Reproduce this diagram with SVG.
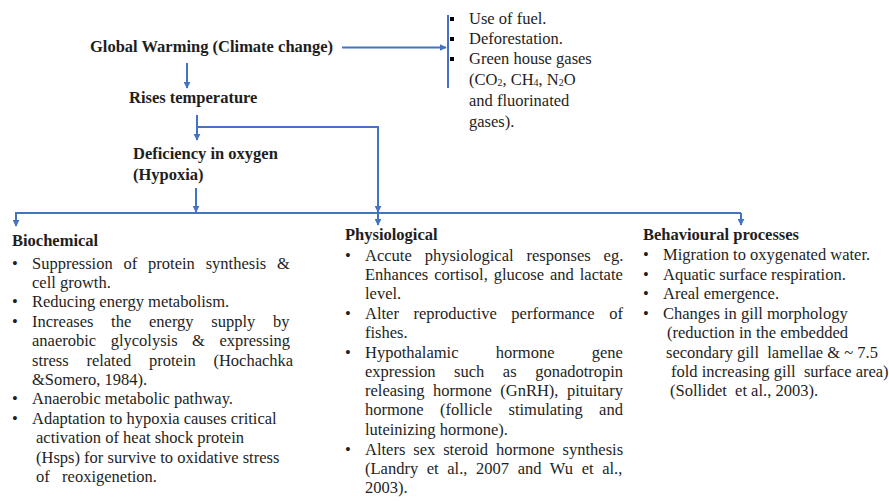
<svg xmlns="http://www.w3.org/2000/svg" width="889" height="501" viewBox="0 0 889 501">
  <defs>
    <marker id="head" viewBox="0 0 10 10" refX="9" refY="5" markerWidth="7" markerHeight="7" markerUnits="userSpaceOnUse" orient="auto">
      <path d="M0,0 L10,5 L0,10 z" fill="#4472c4"/>
    </marker>
    <style>
      text { fill: #1e1e1e; }
      .b { font-weight: bold; }
      .ln { stroke: #4472c4; stroke-width: 2; fill: none; }
      .ar { marker-end: url(#head); }
      .sub { font-size: 10px; }
    </style>
  </defs>
  <rect width="889" height="501" fill="#ffffff"/>

  <!-- connectors -->
  <g id="connectors">
    <path class="ln ar" d="M342,47.5 H446"/>
    <path class="ln" d="M448,15 V88"/>
    <path class="ln ar" d="M187,63 V88"/>
    <path class="ln ar" d="M197,115 V140"/>
    <path class="ln ar" d="M197,127 H378 V212"/>
    <path class="ln ar" d="M196,188 V212"/>
    <path class="ln" d="M15,213 H741"/>
    <path class="ln ar" d="M16,213 V226"/>
    <path class="ln ar" d="M378,213 V225"/>
    <path class="ln ar" d="M741,213 V225"/>
  </g>

  <g font-family="Liberation Serif, Times New Roman, serif" font-size="16.5">
  <g id="global-warming">
    <text class="b" x="90" y="52">Global Warming (Climate change)</text>
  </g>

  <g id="causes">
    <rect x="450" y="17" width="4" height="4" fill="#000"/>
    <rect x="450" y="37" width="4" height="4" fill="#000"/>
    <rect x="450" y="57" width="4" height="4" fill="#000"/>
    <text x="469" y="24">Use of fuel.</text>
    <text x="469" y="44">Deforestation.</text>
    <text x="469" y="64">Green house gases</text>
    <text x="469" y="85">(CO<tspan class="sub" dy="1">2</tspan><tspan dy="-1">, CH</tspan><tspan class="sub" dy="1">4</tspan><tspan dy="-1">, N</tspan><tspan class="sub" dy="1">2</tspan><tspan dy="-1">O</tspan></text>
    <text x="469" y="106">and fluorinated</text>
    <text x="469" y="127">gases).</text>
  </g>

  <g id="rises-temperature">
    <text class="b" x="129" y="103">Rises temperature</text>
  </g>

  <g id="hypoxia">
    <text class="b" x="133" y="159">Deficiency in oxygen</text>
    <text class="b" x="133" y="180">(Hypoxia)</text>
  </g>

  <!-- justified lines use word-spacing to reach the column edge -->
  <g id="biochemical">
    <text class="b" x="12" y="246">Biochemical</text>
    <text x="15" y="269" text-anchor="middle">•</text>
    <text x="32" y="269" word-spacing="6.7">Suppression of protein synthesis &amp;</text>
    <text x="32" y="288">cell growth.</text>
    <text x="15" y="307" text-anchor="middle">•</text>
    <text x="32" y="307">Reducing energy metabolism.</text>
    <text x="15" y="327" text-anchor="middle">•</text>
    <text x="32" y="327" word-spacing="13.6">Increases the energy supply by</text>
    <text x="32" y="346" word-spacing="10.4">anaerobic glycolysis &amp; expressing</text>
    <text x="32" y="366" word-spacing="13.6">stress related protein (Hochachka</text>
    <text x="32" y="385">&amp;Somero, 1984).</text>
    <text x="15" y="404" text-anchor="middle">•</text>
    <text x="32" y="404">Anaerobic metabolic pathway.</text>
    <text x="15" y="424" text-anchor="middle">•</text>
    <text x="32" y="424">Adaptation to hypoxia causes critical</text>
    <text x="36" y="443">activation of heat shock protein</text>
    <text x="36" y="463">(Hsps) for survive to oxidative stress</text>
    <text x="36" y="482" xml:space="preserve">of   reoxigenetion.</text>
  </g>

  <g id="physiological">
    <text class="b" x="345" y="240">Physiological</text>
    <text x="348" y="261" text-anchor="middle">•</text>
    <text x="365" y="261" word-spacing="8.8">Accute physiological responses eg.</text>
    <text x="365" y="280" word-spacing="1.8">Enhances cortisol, glucose and lactate</text>
    <text x="365" y="299">level.</text>
    <text x="348" y="319" text-anchor="middle">•</text>
    <text x="365" y="319" word-spacing="10.4">Alter reproductive performance of</text>
    <text x="365" y="338">fishes.</text>
    <text x="348" y="358" text-anchor="middle">•</text>
    <text x="365" y="358" word-spacing="33.2">Hypothalamic hormone gene</text>
    <text x="365" y="377" word-spacing="14.4">expression such as gonadotropin</text>
    <text x="365" y="396" word-spacing="4.4">releasing hormone (GnRH), pituitary</text>
    <text x="365" y="415" word-spacing="12.2">hormone (follicle stimulating and</text>
    <text x="365" y="435">luteinizing hormone).</text>
    <text x="348" y="455" text-anchor="middle">•</text>
    <text x="365" y="455" word-spacing="3.8">Alters sex steroid hormone synthesis</text>
    <text x="365" y="474" word-spacing="4.5">(Landry et al., 2007 and Wu et al.,</text>
    <text x="365" y="493">2003).</text>
  </g>

  <g id="behavioural">
    <text class="b" x="643" y="240">Behavioural processes</text>
    <text x="646" y="260" text-anchor="middle">•</text>
    <text x="663" y="260">Migration to oxygenated water.</text>
    <text x="646" y="280" text-anchor="middle">•</text>
    <text x="663" y="280">Aquatic surface respiration.</text>
    <text x="646" y="299" text-anchor="middle">•</text>
    <text x="663" y="299">Areal emergence.</text>
    <text x="646" y="319" text-anchor="middle">•</text>
    <text x="663" y="319">Changes in gill morphology</text>
    <text x="667" y="338">(reduction in the embedded</text>
    <text x="666" y="358" xml:space="preserve">secondary gill  lamellae &amp; ~ 7.5</text>
    <text x="671" y="377" xml:space="preserve">fold increasing gill  surface area)</text>
    <text x="670" y="396" xml:space="preserve">(Sollidet  et al., 2003).</text>
  </g>
  </g>
</svg>
